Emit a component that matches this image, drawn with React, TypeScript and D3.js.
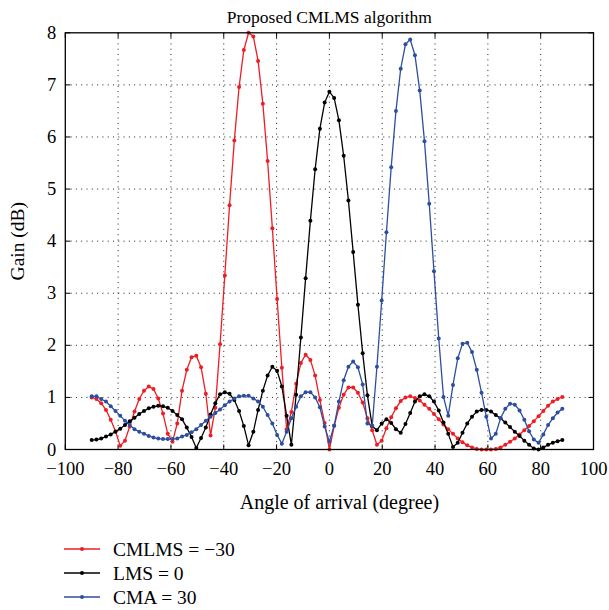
import React from 'react'
import * as d3 from 'd3'

// angles sampled every 1.8 degree from -90
const angleStart = -90
const angleStep = 1.8

const gainCMLMS = [
  1.00, 0.97, 0.89, 0.76, 0.57, 0.35, 0.07, 0.17, 0.44, 0.73,
  0.97, 1.13, 1.21, 1.16, 0.98, 0.69, 0.30, 0.15, 0.50, 1.13,
  1.53, 1.77, 1.80, 1.58, 1.07, 0.27, 0.80, 2.02, 3.34, 4.69,
  5.93, 6.96, 7.67, 8.00, 7.93, 7.46, 6.64, 5.54, 4.25, 2.89,
  1.57, 0.39, 0.72, 1.26, 1.66, 1.82, 1.72, 1.42, 0.95, 0.51,
  0.00, 0.45, 0.80, 1.05, 1.19, 1.19, 1.09, 0.90, 0.60, 0.37,
  0.09, 0.17, 0.41, 0.62, 0.79, 0.93, 1.00, 1.02, 0.99, 0.94,
  0.86, 0.78, 0.68, 0.58, 0.48, 0.39, 0.30, 0.21, 0.14, 0.08,
  0.04, 0.01, 0.00, 0.00, 0.00, 0.01, 0.04, 0.09, 0.15, 0.21,
  0.29, 0.37, 0.45, 0.54, 0.64, 0.74, 0.84, 0.92, 0.97, 1.01,
]

const gainLMS = [
  0.18, 0.19, 0.21, 0.25, 0.29, 0.34, 0.40, 0.47, 0.54, 0.61,
  0.68, 0.74, 0.79, 0.82, 0.84, 0.83, 0.80, 0.74, 0.66, 0.58,
  0.42, 0.24, 0.03, 0.22, 0.42, 0.67, 0.89, 1.06, 1.10, 1.07,
  0.95, 0.74, 0.45, 0.08, 0.34, 0.76, 1.13, 1.42, 1.59, 1.51,
  1.21, 0.65, 0.09, 1.05, 2.15, 3.29, 4.39, 5.38, 6.16, 6.66,
  6.87, 6.75, 6.32, 5.64, 4.78, 3.79, 2.78, 1.85, 1.04, 0.45,
  0.37, 0.50, 0.58, 0.51, 0.39, 0.32, 0.49, 0.70, 0.92, 1.02,
  1.06, 1.02, 0.92, 0.75, 0.52, 0.30, 0.05, 0.13, 0.32, 0.50,
  0.63, 0.73, 0.76, 0.76, 0.73, 0.66, 0.60, 0.52, 0.43, 0.34,
  0.26, 0.17, 0.09, 0.02, 0.00, 0.04, 0.09, 0.13, 0.16, 0.18,
]

const gainCMA = [
  1.02, 1.02, 0.97, 0.92, 0.83, 0.74, 0.65, 0.55, 0.47, 0.39,
  0.34, 0.30, 0.26, 0.23, 0.21, 0.20, 0.20, 0.20, 0.21, 0.25,
  0.28, 0.33, 0.39, 0.47, 0.55, 0.63, 0.70, 0.77, 0.85, 0.92,
  0.98, 1.02, 1.03, 1.03, 0.98, 0.92, 0.82, 0.66, 0.50, 0.28,
  0.11, 0.34, 0.60, 0.82, 1.02, 1.10, 1.10, 1.00, 0.81, 0.44,
  0.15, 0.46, 0.92, 1.33, 1.59, 1.69, 1.58, 1.25, 0.50, 0.45,
  1.59, 2.86, 4.17, 5.42, 6.50, 7.31, 7.78, 7.87, 7.57, 6.89,
  5.92, 4.72, 3.42, 2.13, 1.01, 0.65, 1.24, 1.75, 2.03, 2.05,
  1.87, 1.53, 1.09, 0.63, 0.21, 0.30, 0.60, 0.78, 0.88, 0.86,
  0.75, 0.57, 0.35, 0.19, 0.13, 0.29, 0.47, 0.60, 0.71, 0.78,
]

const xTicks = [-100, -80, -60, -40, -20, 0, 20, 40, 60, 80, 100]
const yTicks = [0, 1, 2, 3, 4, 5, 6, 7, 8]

const seriesNames = ['CMLMS = \u221230', 'LMS = 0', 'CMA = 30']
const seriesColors = ['#ee1d23', '#000000', '#2d4e9f']
const seriesData = [gainCMLMS, gainLMS, gainCMA]

const W = 609
const H = 610
const left = 65.3
const right = 593.5
const top = 32.8
const bottom = 449.5
const font = '"Liberation Serif", "Times New Roman", serif'

const fmt = (v: number) => (v < 0 ? '\u2212' + Math.abs(v) : String(v))

const App = () => {
  const x = d3.scaleLinear().domain([-100, 100]).range([left, right])
  const y = d3.scaleLinear().domain([0, 8]).range([bottom, top])

  const line = d3.line<number>()
    .x((d, i) => x(angleStart + i * angleStep))
    .y(d => y(d))

  return (
    <svg width={W} height={H} style={{ position: 'absolute', left: 0, top: 0, background: '#fff' }}
      fontFamily={font}>
      {/* grid */}
      <g stroke="#222" strokeWidth={1} strokeDasharray="1,4.3">
        {xTicks.slice(1, -1).map(t => (
          <line key={'gx' + t} x1={x(t)} x2={x(t)} y1={top} y2={bottom} />
        ))}
        {yTicks.slice(1, -1).map(t => (
          <line key={'gy' + t} x1={left} x2={right} y1={y(t)} y2={y(t)} />
        ))}
      </g>

      {/* ticks inside the box */}
      <g stroke="#000" strokeWidth={1}>
        {xTicks.map(t => (
          <g key={'tx' + t}>
            <line x1={x(t)} x2={x(t)} y1={bottom} y2={bottom - 5} />
            <line x1={x(t)} x2={x(t)} y1={top} y2={top + 5} />
          </g>
        ))}
        {yTicks.map(t => (
          <g key={'ty' + t}>
            <line x1={left} x2={left + 5} y1={y(t)} y2={y(t)} />
            <line x1={right} x2={right - 5} y1={y(t)} y2={y(t)} />
          </g>
        ))}
      </g>

      {/* series */}
      {seriesData.map((data, s) => (
        <g key={'s' + s}>
          <path d={line(data) || ''} fill="none" stroke={seriesColors[s]} strokeWidth={1.3} />
          {data.map((v, i) => (
            <circle key={i} cx={x(angleStart + i * angleStep)} cy={y(v)} r={2} fill={seriesColors[s]} />
          ))}
        </g>
      ))}

      <rect x={left} y={top} width={right - left} height={bottom - top} fill="none" stroke="#000" strokeWidth={1.3} />

      {/* tick labels */}
      <g fontSize={18.5} fill="#000">
        {xTicks.map(t => (
          <text key={'lx' + t} x={x(t)} y={475} textAnchor="middle">{fmt(t)}</text>
        ))}
        {yTicks.map(t => (
          <text key={'ly' + t} x={left - 9} y={y(t) + 6} textAnchor="end">{t}</text>
        ))}
      </g>

      <text x={(left + right) / 2} y={23} textAnchor="middle" fontSize={17.5}>Proposed CMLMS algorithm</text>
      <text x={(left + right) / 2 + 10} y={509} textAnchor="middle" fontSize={20}>Angle of arrival (degree)</text>
      <text transform={`translate(24,${(top + bottom) / 2}) rotate(-90)`} textAnchor="middle" fontSize={19.5}>Gain (dB)</text>

      {/* legend */}
      {seriesNames.map((name, s) => (
        <g key={'lg' + s} transform={`translate(0,${549 + s * 24})`}>
          <line x1={64} x2={100} y1={0} y2={0} stroke={seriesColors[s]} strokeWidth={1.3} />
          <circle cx={82} cy={0} r={2} fill={seriesColors[s]} />
          <text x={113} y={6.5} fontSize={19.5}>{name}</text>
        </g>
      ))}
    </svg>
  )
}

export default App
